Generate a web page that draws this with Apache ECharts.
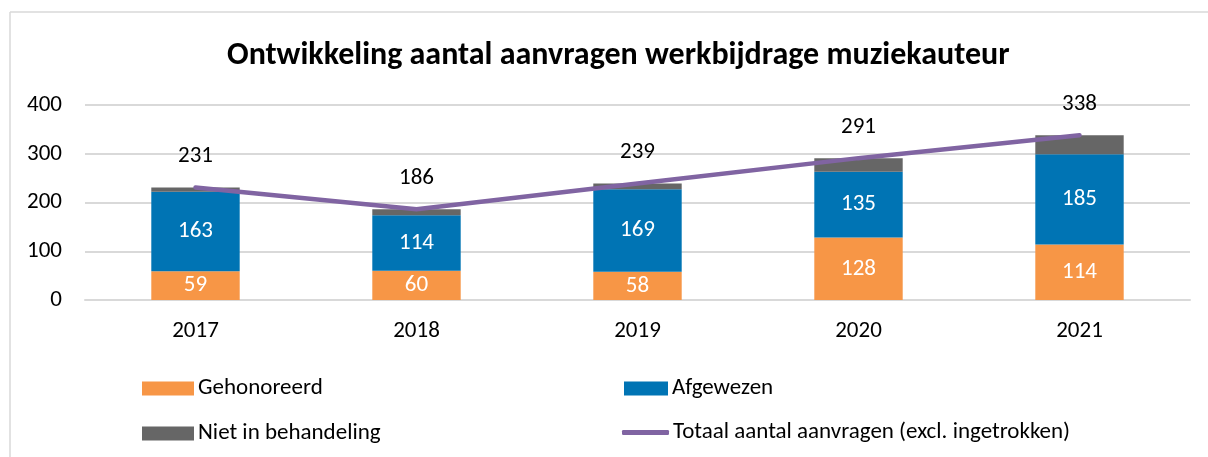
<!DOCTYPE html>
<html>
<head>
<meta charset="utf-8">
<script src="https://cdn.jsdelivr.net/npm/echarts@6/dist/echarts.min.js"></script>
<style>
html,body{margin:0;padding:0;background:#fff;}
#chart{width:1208px;height:457px;}
</style>
</head>
<body>
<div id="chart"></div>
<script>
const categories = ['2017', '2018', '2019', '2020', '2021'];
const gehonoreerd = [59, 60, 58, 128, 114];
const afgewezen = [163, 114, 169, 135, 185];
const nietInBehandeling = [9, 12, 12, 28, 39];
const totaal = [231, 186, 239, 291, 338];
const yTicks = [0, 100, 200, 300, 400];

const FONT = 'Carlito, Lato, "Noto Sans", sans-serif';
const FS = 23;
const chart = echarts.init(document.getElementById('chart'));

function legendAt(name, left, top, icon, w, h) {
  return {
    data: [{name: name, icon: icon}],
    left: left, top: top,
    itemWidth: w, itemHeight: h, itemGap: 0,
    selectedMode: false,
    textStyle: {fontFamily: FONT, fontSize: FS, color: '#000', padding: [0, 0, 0, -1]}
  };
}

chart.setOption({
  animation: false,
  textStyle: {fontFamily: FONT},
  title: {
    text: 'Ontwikkeling aantal aanvragen werkbijdrage muziekauteur',
    left: 222, top: 35,
    textStyle: {fontFamily: FONT, fontSize: 32, fontWeight: 'bold', color: '#000'}
  },
  graphic: [
    {type: 'line', shape: {x1: 10, y1: 12, x2: 1208, y2: 12}, style: {stroke: '#d9d9d9', lineWidth: 1.5}, silent: true},
    {type: 'line', shape: {x1: 10, y1: 12, x2: 10, y2: 457}, style: {stroke: '#d9d9d9', lineWidth: 1.5}, silent: true}
  ],
  legend: [
    legendAt('Gehonoreerd', 137, 372, 'rect', 52, 14),
    legendAt('Afgewezen', 619, 372, 'rect', 44, 14),
    legendAt('Niet in behandeling', 137, 417, 'rect', 52, 14),
    legendAt('Totaal aantal aanvragen (excl. ingetrokken)', 617, 416, 'roundRect', 47, 5)
  ],
  grid: {left: 85, right: 18, top: 105, bottom: 157, containLabel: false},
  xAxis: {
    type: 'category',
    data: categories,
    axisLine: {lineStyle: {color: '#d9d9d9', width: 2}},
    axisTick: {show: false},
    axisLabel: {fontFamily: FONT, fontSize: FS, color: '#000', margin: 20}
  },
  yAxis: {
    type: 'value',
    min: 0, max: 400, interval: 100,
    axisLine: {show: false},
    axisTick: {show: false},
    axisLabel: {fontFamily: FONT, fontSize: FS, color: '#000', margin: 23,
      formatter: function (v) { return yTicks.indexOf(v) >= 0 ? String(v) : ''; }},
    splitLine: {lineStyle: {color: '#d9d9d9', width: 2}}
  },
  series: [
    {
      name: 'Gehonoreerd', type: 'bar', stack: 'a', data: gehonoreerd,
      barWidth: '40%',
      itemStyle: {color: '#F79646'},
      label: {show: true, position: 'inside', color: '#fff', fontFamily: FONT, fontSize: FS}
    },
    {
      name: 'Afgewezen', type: 'bar', stack: 'a', data: afgewezen,
      itemStyle: {color: '#0074B4'},
      label: {show: true, position: 'inside', color: '#fff', fontFamily: FONT, fontSize: FS}
    },
    {
      name: 'Niet in behandeling', type: 'bar', stack: 'a', data: nietInBehandeling,
      itemStyle: {color: '#666666'}
    },
    {
      name: 'Totaal aantal aanvragen (excl. ingetrokken)', type: 'line', data: totaal,
      symbol: 'circle', symbolSize: 1, showSymbol: true,
      lineStyle: {color: '#8064A2', width: 4.5, cap: 'round'},
      itemStyle: {color: '#8064A2'},
      label: {show: true, position: 'top', distance: 19, color: '#000', fontFamily: FONT, fontSize: FS}
    }
  ]
});
</script>
</body>
</html>
